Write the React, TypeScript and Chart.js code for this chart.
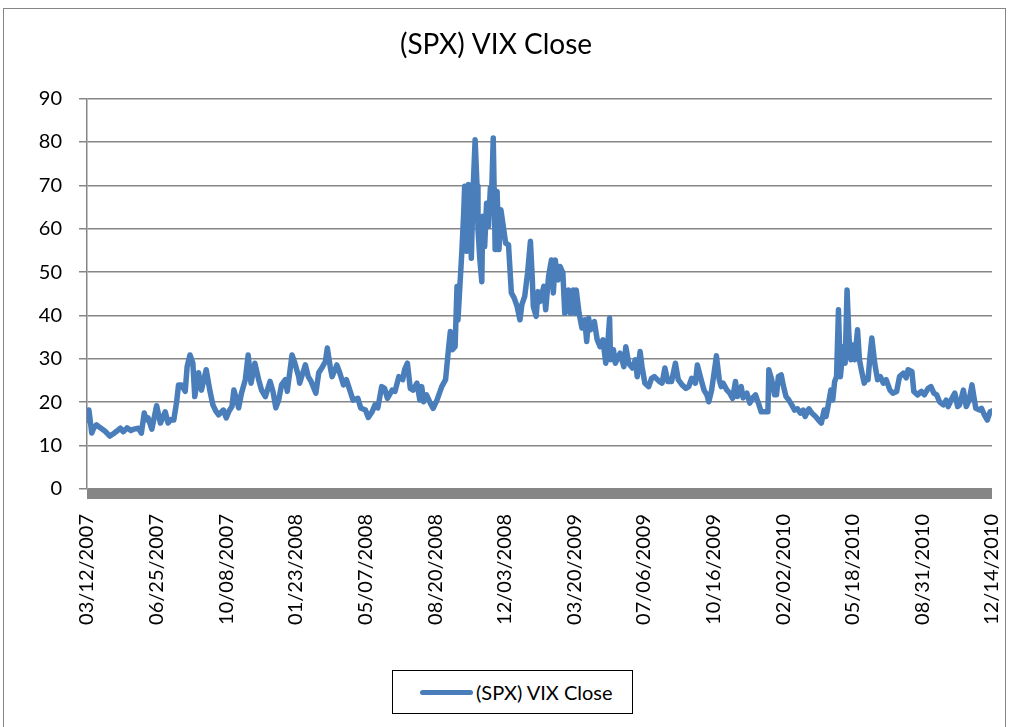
import React, { useEffect, useRef } from "react";
import { Chart, registerables } from "chart.js";

Chart.register(...registerables);

const chartTitle = "(SPX) VIX Close";
const seriesName = "(SPX) VIX Close";

// tick labels on the date axis (trading-day index of each label below)
const tickLabels = [
  "03/12/2007", "06/25/2007", "10/08/2007", "01/23/2008", "05/07/2008",
  "08/20/2008", "12/03/2008", "03/20/2009", "07/06/2009", "10/16/2009",
  "02/02/2010", "05/18/2010", "08/31/2010", "12/14/2010",
];
const tickDays = [0, 73, 146, 219, 292, 365, 438, 511, 584, 657, 730, 803, 876, 949];

// trading-day index of each reading
const dayIndex = [
  0, 2, 5, 7, 10, 14, 19, 24, 28, 31,
  35, 38, 42, 46, 49, 54, 57, 60, 62, 64,
  68, 73, 77, 82, 85, 88, 91, 94, 96, 99,
  103, 105, 108, 111, 113, 117, 120, 125, 129, 132,
  135, 138, 143, 146, 149, 152, 154, 157, 159, 162,
  166, 169, 172, 176, 180, 183, 187, 192, 195, 198,
  201, 204, 208, 210, 215, 218, 222, 223, 226, 229,
  232, 235, 240, 243, 247, 250, 252, 255, 257, 262,
  265, 269, 272, 276, 279, 284, 287, 292, 295, 299,
  302, 305, 309, 312, 315, 320, 323, 327, 331, 333,
  336, 339, 342, 346, 349, 351, 353, 356, 360, 363,
  367, 372, 376, 379, 381, 383, 386, 388, 389, 391,
  393, 395, 396, 398, 400, 402, 403, 405, 407, 409,
  410, 412, 414, 415, 417, 419, 421, 423, 424, 426,
  428, 430, 432, 434, 437, 439, 442, 445, 448, 451,
  454, 456, 459, 462, 465, 467, 468, 471, 473, 475,
  479, 481, 484, 487, 489, 491, 494, 496, 499, 501,
  504, 505, 507, 510, 512, 513, 516, 519, 522, 524,
  526, 528, 532, 535, 538, 541, 544, 546, 548, 549,
  552, 554, 559, 563, 565, 568, 572, 575, 577, 580,
  582, 585, 589, 592, 595, 600, 603, 606, 609, 613,
  617, 620, 624, 628, 631, 634, 638, 640, 644, 647,
  650, 652, 655, 659, 660, 663, 665, 667, 671, 674,
  677, 680, 682, 686, 688, 692, 695, 698, 701, 704,
  707, 711, 714, 715, 718, 721, 723, 725, 728, 730,
  733, 736, 739, 742, 745, 748, 751, 753, 757, 760,
  764, 767, 770, 773, 775, 777, 780, 782, 784, 786,
  788, 790, 793, 795, 797, 799, 801, 803, 805, 808,
  810, 812, 815, 817, 819, 821, 823, 826, 829, 832,
  835, 838, 842, 845, 849, 852, 856, 859, 861, 865,
  867, 871, 875, 878, 882, 885, 888, 891, 894, 898,
  901, 903, 907, 910, 913, 915, 919, 922, 925, 928,
  930, 932, 936, 938, 941, 944, 947, 949,
];

// VIX close at each reading
const vixClose = [
  15.8, 18.2, 12.9, 14.0, 14.8, 14.1, 13.3, 12.2, 12.8, 13.3,
  14.0, 13.2, 14.1, 13.5, 13.8, 14.0, 12.9, 17.5, 16.0, 16.4,
  13.8, 19.2, 15.2, 17.8, 15.2, 16.0, 15.9, 20.1, 24.0, 24.0,
  22.5, 28.2, 30.9, 29.0, 21.3, 26.8, 22.8, 27.5, 22.5, 19.4,
  18.0, 17.1, 18.2, 16.4, 18.0, 19.0, 22.8, 20.5, 18.7, 22.1,
  25.2, 30.9, 24.4, 29.0, 25.2, 22.8, 21.3, 24.8, 22.5, 18.7,
  20.5, 24.0, 25.2, 22.5, 30.9, 29.0, 25.9, 24.4, 26.5, 28.6,
  25.9, 24.8, 22.1, 26.8, 28.2, 29.4, 32.5, 28.2, 25.9, 28.6,
  26.8, 24.0, 25.2, 22.5, 20.5, 20.9, 18.7, 18.2, 16.5, 17.8,
  19.4, 18.7, 23.6, 23.2, 20.9, 22.8, 22.5, 25.9, 25.2, 27.5,
  29.0, 23.2, 22.8, 24.4, 20.5, 23.6, 20.1, 21.7, 19.8, 18.6,
  20.5, 23.6, 25.2, 32.1, 36.3, 32.1, 32.8, 46.7, 39.0, 46.7,
  54.4, 63.6, 69.8, 54.8, 70.2, 62.1, 53.2, 69.8, 80.5, 69.8,
  59.8, 52.8, 47.8, 62.9, 55.9, 65.9, 60.5, 69.4, 65.9, 80.9,
  55.2, 68.6, 55.2, 64.4, 59.8, 56.7, 56.3, 45.2, 44.0, 42.1,
  39.0, 42.5, 44.4, 49.8, 57.1, 48.2, 42.1, 39.8, 45.5, 43.2,
  46.7, 41.3, 49.0, 52.8, 45.2, 52.8, 48.2, 51.3, 49.8, 40.5,
  41.3, 45.9, 40.5, 45.9, 40.5, 45.9, 40.5, 37.1, 39.0, 34.0,
  39.4, 36.7, 38.6, 34.4, 32.8, 34.4, 29.0, 33.2, 39.4, 29.8,
  32.1, 29.0, 31.3, 28.2, 32.8, 29.0, 27.9, 29.8, 25.9, 31.7,
  28.2, 24.4, 23.6, 25.5, 25.9, 24.8, 24.4, 27.9, 24.8, 24.8,
  29.0, 25.2, 24.0, 23.2, 23.6, 25.5, 24.4, 28.6, 25.2, 22.8,
  21.7, 20.1, 22.8, 29.0, 30.7, 25.2, 23.6, 24.4, 22.8, 22.1,
  20.9, 24.8, 21.3, 23.6, 21.0, 22.1, 19.8, 21.0, 21.7, 19.8,
  17.8, 17.8, 17.8, 27.5, 25.2, 21.7, 21.7, 25.9, 26.3, 24.0,
  21.3, 20.5, 19.4, 18.2, 18.5, 17.5, 18.2, 16.7, 18.5, 17.5,
  16.7, 15.9, 15.2, 18.2, 16.7, 19.0, 22.8, 20.5, 24.8, 25.9,
  41.3, 25.9, 32.8, 29.0, 45.9, 35.1, 29.8, 33.2, 29.8, 36.7,
  29.8, 27.5, 24.4, 25.5, 25.2, 30.5, 34.8, 29.0, 25.2, 25.9,
  24.4, 25.2, 22.8, 22.1, 22.5, 25.9, 26.7, 25.6, 27.5, 27.1,
  22.5, 21.7, 22.5, 21.7, 23.2, 23.6, 22.1, 21.7, 20.1, 19.4,
  20.5, 19.0, 20.9, 22.1, 19.0, 19.4, 22.8, 19.0, 20.5, 24.0,
  21.3, 18.6, 18.2, 18.6, 17.1, 15.9, 17.8, 18.0,
];

const yTicks = [0, 10, 20, 30, 40, 50, 60, 70, 80, 90];

const LINE_COLOR = "#4A7EBB";
const GRID_COLOR = "#868686";
const FONT = "Lato, 'Open Sans', sans-serif";

const axisBand = {
  id: "axisBand",
  beforeDatasetsDraw(chart: any) {
    const { ctx, chartArea, scales } = chart;
    const y0 = scales.y.getPixelForValue(0);
    ctx.save();
    ctx.fillStyle = GRID_COLOR;
    ctx.fillRect(chartArea.left, y0, chartArea.right - chartArea.left, 10);
    ctx.restore();
  },
};

export default function App() {
  const canvasRef = useRef<HTMLCanvasElement | null>(null);

  useEffect(() => {
    const canvas = canvasRef.current;
    if (!canvas) return;
    const chart = new Chart(canvas, {
      type: "line",
      data: {
        datasets: [
          {
            label: seriesName,
            data: dayIndex.map((d, i) => ({ x: d, y: vixClose[i] })),
            borderColor: LINE_COLOR,
            backgroundColor: LINE_COLOR,
            borderWidth: 5.5,
            borderJoinStyle: "round",
            borderCapStyle: "round",
            pointRadius: 0,
            tension: 0,
            fill: false,
          },
        ],
      },
      plugins: [axisBand],
      options: {
        animation: false,
        responsive: false,
        devicePixelRatio: 1,
        layout: { padding: { left: 0, right: 18, top: 0, bottom: 0 } },
        plugins: {
          legend: { display: false },
          tooltip: { enabled: false },
          title: {
            display: true,
            text: chartTitle,
            color: "#000",
            font: { family: FONT, size: 28, weight: "normal" },
            padding: { top: 28, bottom: 37 },
          },
        },
        scales: {
          x: {
            type: "linear",
            min: 0,
            max: 949,
            afterBuildTicks(scale: any) {
              scale.ticks = tickDays.map((v) => ({ value: v }));
            },
            afterFit(scale: any) {
              scale.height = 238;
              scale.paddingLeft = 0;
              scale.paddingRight = 0;
            },
            ticks: {
              autoSkip: false,
              maxRotation: 90,
              minRotation: 90,
              padding: 17,
              color: "#000",
              font: { family: FONT, size: 20 },
              callback: (_v: any, i: number) => tickLabels[i],
            },
            grid: { display: false },
            border: { display: false },
          },
          y: {
            min: 0,
            max: 90,
            afterBuildTicks(scale: any) {
              scale.ticks = yTicks.map((v) => ({ value: v }));
            },
            afterFit(scale: any) {
              scale.width = 87;
              scale.paddingTop = 0;
              scale.paddingBottom = 0;
            },
            ticks: {
              color: "#000",
              padding: 17,
              font: { family: FONT, size: 20 },
            },
            grid: {
              color: GRID_COLOR,
              lineWidth: 1.5,
              tickLength: 8,
              drawTicks: true,
            },
            border: { display: true, color: GRID_COLOR, width: 1.5 },
          },
        },
      },
    });
    return () => chart.destroy();
  }, []);

  return (
    <div
      style={{
        position: "absolute",
        left: 0,
        top: 0,
        width: 1010,
        height: 727,
        background: "#fff",
        overflow: "hidden",
      }}
    >
      <div
        style={{
          position: "absolute",
          left: 3,
          top: 8,
          width: 1003,
          height: 740,
          border: "1px solid #868686",
          boxSizing: "border-box",
        }}
      />
      <canvas
        ref={canvasRef}
        width={1010}
        height={727}
        style={{ position: "absolute", left: 0, top: 0, width: 1010, height: 727 }}
      />
      <div
        style={{
          position: "absolute",
          left: 392,
          top: 670,
          width: 241,
          height: 44,
          border: "1px solid #000",
          boxSizing: "border-box",
          background: "#fff",
          display: "flex",
          alignItems: "center",
          fontFamily: FONT,
          fontSize: 20,
          color: "#000",
        }}
      >
        <span
          style={{
            display: "inline-block",
            marginLeft: 27,
            width: 53,
            height: 5,
            borderRadius: 3,
            background: LINE_COLOR,
          }}
        />
        <span style={{ marginLeft: 3 }}>{seriesName}</span>
      </div>
    </div>
  );
}
